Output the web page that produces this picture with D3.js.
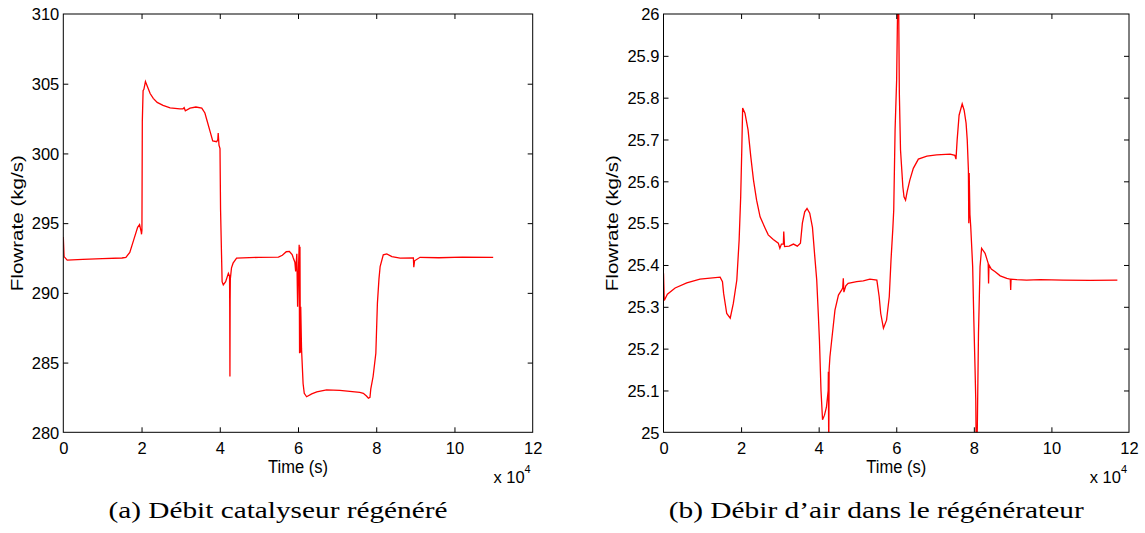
<!DOCTYPE html>
<html>
<head>
<meta charset="utf-8">
<script src="https://cdn.jsdelivr.net/npm/d3@7"></script>
<style>
  html, body { margin: 0; padding: 0; background: #fff; }
  svg { display: block; }
  .tick text { font-family: "Liberation Sans", Arial, sans-serif; font-size: 16.5px; fill: #000; }
</style>
</head>
<body>
<svg id="chart" width="1145" height="533"></svg>
<script>
// ---------- DATA ----------
const xTicks = [0, 2, 4, 6, 8, 10, 12];            // x 10^4 s
const leftYTicks = [280, 285, 290, 295, 300, 305, 310];
const rightYTicks = [25, 25.1, 25.2, 25.3, 25.4, 25.5, 25.6, 25.7, 25.8, 25.9, 26];

// (a) regenerated catalyst flowrate (time in 1e4 s, kg/s)
const leftTime = [
  0, 0.02, 0.1, 0.5, 1.0, 1.5, 1.6, 1.7, 1.8, 1.9,
  1.95, 1.99, 2.0, 2.01, 2.02, 2.04, 2.06, 2.1, 2.15, 2.22,
  2.3, 2.4, 2.55, 2.73, 2.98, 3.06, 3.09, 3.12, 3.24, 3.39,
  3.54, 3.62, 3.67, 3.75, 3.82, 3.92, 3.95, 3.96, 3.98, 4.006,
  4.02, 4.06, 4.09, 4.15, 4.22, 4.25, 4.255, 4.26, 4.265, 4.27,
  4.3, 4.34, 4.43, 5.0, 5.5, 5.6, 5.7, 5.78, 5.85, 5.88,
  5.92, 5.94, 5.97, 5.99, 6.0, 6.03, 6.04, 6.05, 6.06, 6.07,
  6.09, 6.13, 6.16, 6.22, 6.35, 6.48, 6.73, 7.07, 7.58, 7.67,
  7.75, 7.8, 7.84, 7.86, 7.92, 7.99, 8.03, 8.07, 8.1, 8.18,
  8.27, 8.4, 8.61, 8.95, 8.96, 8.98, 9.12, 9.6, 10.2, 10.99
];
const leftFlow = [
  294.0, 292.6, 292.35, 292.4, 292.45, 292.5, 292.55, 292.9, 293.8, 294.7,
  294.9, 294.4, 294.2, 294.5, 302.3, 304.5, 304.6, 305.15, 304.8, 304.3,
  303.95, 303.66, 303.45, 303.26, 303.19, 303.2, 303.28, 303.06, 303.25, 303.33,
  303.25, 302.9, 302.4, 301.6, 300.9, 300.84, 301.0, 301.46, 300.6, 300.34,
  296.0, 290.8, 290.57, 290.8, 291.4, 291.2, 289.0, 284.0, 289.5, 291.0,
  291.8, 292.13, 292.49, 292.55, 292.56, 292.7, 292.95, 292.97, 292.75, 292.5,
  292.2, 291.53, 292.8, 289.0, 290.5, 293.45, 285.67, 293.3, 285.7, 289.0,
  286.0, 283.5, 282.8, 282.55, 282.75, 282.9, 283.04, 283.0, 282.87, 282.8,
  282.6, 282.44, 282.5, 283.09, 284.0, 285.67, 289.26, 291.0, 291.89, 292.73,
  292.8, 292.6, 292.49, 292.5, 291.84, 292.3, 292.55, 292.52, 292.56, 292.55
];

// (b) air flowrate into the regenerator (time in 1e4 s, kg/s)
const rightTime = [
  0, 0.02, 0.1, 0.3, 0.6, 0.94, 1.46, 1.52, 1.55, 1.63,
  1.72, 1.8, 1.89, 1.95, 1.99, 2.02, 2.04, 2.1, 2.18, 2.25,
  2.32, 2.4, 2.49, 2.62, 2.7, 2.83, 2.96, 3.0, 3.04, 3.09,
  3.1, 3.12, 3.24, 3.35, 3.45, 3.53, 3.58, 3.64, 3.7, 3.77,
  3.84, 3.9, 3.95, 3.99, 4.02, 4.06, 4.1, 4.15, 4.2, 4.245,
  4.25, 4.26, 4.27, 4.29, 4.336, 4.42, 4.51, 4.59, 4.62, 4.635,
  4.65, 4.7, 4.76, 4.98, 5.15, 5.32, 5.5, 5.56, 5.6, 5.67,
  5.75, 5.82, 5.865, 5.91, 5.935, 5.97, 6.01, 6.04, 6.06, 6.08,
  6.11, 6.17, 6.2, 6.24, 6.28, 6.35, 6.44, 6.57, 6.79, 7.04,
  7.39, 7.51, 7.54, 7.57, 7.62, 7.7, 7.75, 7.8, 7.83, 7.86,
  7.87, 7.88, 7.9, 7.92, 7.97, 8.0, 8.03, 8.05, 8.06, 8.08,
  8.09, 8.12, 8.16, 8.2, 8.29, 8.37, 8.38, 8.39, 8.45, 8.55,
  8.68, 8.85, 8.94, 8.95, 8.96, 9.1, 9.36, 9.71, 10.3, 11.0,
  11.7
];
const rightFlow = [
  25.38, 25.315, 25.33, 25.345, 25.357, 25.366, 25.371, 25.36, 25.332, 25.284,
  25.273, 25.308, 25.364, 25.46, 25.563, 25.683, 25.775, 25.763, 25.723, 25.659,
  25.603, 25.555, 25.515, 25.488, 25.472, 25.461, 25.452, 25.44, 25.45, 25.45,
  25.48, 25.444, 25.445, 25.45, 25.445, 25.452, 25.5, 25.527, 25.535, 25.524,
  25.49, 25.42, 25.364, 25.284, 25.22, 25.1, 25.03, 25.041, 25.06, 25.1,
  25.145, 24.95, 25.15, 25.18, 25.22, 25.292, 25.328, 25.34, 25.345, 25.368,
  25.335, 25.35, 25.356, 25.36, 25.362, 25.366, 25.364, 25.324, 25.284, 25.249,
  25.268, 25.324, 25.412, 25.484, 25.531, 25.723, 25.842, 26.05, 26.05, 25.81,
  25.675, 25.587, 25.563, 25.555, 25.575, 25.603, 25.631, 25.653, 25.66, 25.663,
  25.665, 25.662, 25.653, 25.699, 25.758, 25.785, 25.77, 25.739, 25.699, 25.627,
  25.5, 25.62, 25.52, 25.492, 25.396, 25.268, 25.157, 25.077, 24.97, 24.97,
  25.013, 25.237, 25.396, 25.44, 25.428, 25.404, 25.356, 25.4, 25.39, 25.384,
  25.374, 25.368, 25.366, 25.34, 25.366, 25.365, 25.364, 25.365, 25.364, 25.363,
  25.364
];

const captions = ["(a) Débit catalyseur régénéré", "(b) Débir d\u2019air dans le régénérateur"];
const yLabel = "Flowrate (kg/s)";
const xLabel = "Time (s)";

// ---------- DRAW ----------
const svg = d3.select("#chart");
const font = '"Liberation Sans", Arial, sans-serif';

const panels = [
  { id: "a", x0: 63.3, x1: 532.7, y0: 14, y1: 432.3, time: leftTime, flow: leftFlow,
    yDomain: [280, 310], yTicks: leftYTicks, yFmt: d3.format("d"),
    ylabX: 17, capW: 339 },
  { id: "b", x0: 663.5, x1: 1129, y0: 14, y1: 432.3, time: rightTime, flow: rightFlow,
    yDomain: [25, 26], yTicks: rightYTicks, yFmt: d => (d === 25 || d === 26) ? String(d) : d3.format(".1f")(d),
    ylabX: 612, capW: 415 }
];

panels.forEach((p, i) => {
  const x = d3.scaleLinear().domain([0, 12]).range([p.x0, p.x1]);
  const y = d3.scaleLinear().domain(p.yDomain).range([p.y1, p.y0]);
  const g = svg.append("g");

  // clip
  svg.append("clipPath").attr("id", "clip-" + p.id)
    .append("rect").attr("x", p.x0).attr("y", p.y0)
    .attr("width", p.x1 - p.x0).attr("height", p.y1 - p.y0);

  // data line
  const pts = p.time.map((t, k) => [t, p.flow[k]]);
  g.append("path")
    .datum(pts)
    .attr("clip-path", `url(#clip-${p.id})`)
    .attr("fill", "none")
    .attr("stroke", "#ff0000")
    .attr("stroke-width", 1.3)
    .attr("stroke-linejoin", "miter")
    .attr("d", d3.line().x(d => x(d[0])).y(d => y(d[1])));

  // axes (ticks point inward)
  const bottom = g.append("g").attr("transform", `translate(0,${p.y1})`)
    .call(d3.axisBottom(x).tickValues(xTicks).tickSizeInner(-5).tickSizeOuter(0).tickFormat(d3.format("d")));
  bottom.selectAll("text").attr("y", 22).attr("dy", null);
  const top = g.append("g").attr("transform", `translate(0,${p.y0})`)
    .call(d3.axisTop(x).tickValues(xTicks).tickSizeInner(-5).tickSizeOuter(0).tickFormat(""));
  const left = g.append("g").attr("transform", `translate(${p.x0},0)`)
    .call(d3.axisLeft(y).tickValues(p.yTicks).tickSizeInner(-5).tickSizeOuter(0).tickFormat(p.yFmt));
  left.selectAll("text").attr("x", -4).attr("dy", "0.35em");
  const right = g.append("g").attr("transform", `translate(${p.x1},0)`)
    .call(d3.axisRight(y).tickValues(p.yTicks).tickSizeInner(-5).tickSizeOuter(0).tickFormat(""));
  [bottom, top, left, right].forEach(a => {
    a.select(".domain").remove();
    a.selectAll("line").attr("stroke", "#000");
  });
  bottom.selectAll(".tick").filter(d => d === 0 || d === 12).select("line").remove();
  top.selectAll(".tick").filter(d => d === 0 || d === 12).select("line").remove();
  left.selectAll(".tick").filter((d, k, n) => k === 0 || k === n.length - 1).select("line").remove();
  right.selectAll(".tick").filter((d, k, n) => k === 0 || k === n.length - 1).select("line").remove();

  // box
  g.append("rect").attr("x", p.x0).attr("y", p.y0)
    .attr("width", p.x1 - p.x0).attr("height", p.y1 - p.y0)
    .attr("fill", "none").attr("stroke", "#000").attr("stroke-width", 1);

  // x label
  g.append("text")
    .attr("transform", `translate(${(p.x0 + p.x1) / 2},472.5) scale(1,1.14)`)
    .attr("text-anchor", "middle")
    .style("font-family", font).style("font-size", "16.5px")
    .text(xLabel);

  // x 10^4
  const m = g.append("text")
    .attr("x", p.x1 - 2).attr("y", 483)
    .attr("text-anchor", "end")
    .style("font-family", font).style("font-size", "16.5px");
  m.append("tspan").text("x 10");
  m.append("tspan").attr("dy", -10.5).style("font-size", "11px").text("4");

  // y label
  g.append("text")
    .attr("transform", `translate(${p.ylabX + 6},${(p.y0 + p.y1) / 2}) rotate(-90) scale(1.25,1)`)
    .attr("text-anchor", "middle")
    .style("font-family", font).style("font-size", "16.5px")
    .text(yLabel);

  // caption
  const cx = (p.x0 + p.x1) / 2 - 20;
  g.append("text")
    .attr("x", cx - p.capW / 2).attr("y", 518)
    .attr("textLength", p.capW).attr("lengthAdjust", "spacingAndGlyphs")
    .style("font-family", '"Liberation Serif", "Times New Roman", serif')
    .style("font-size", "23px")
    .text(captions[i]);
});
</script>
</body>
</html>
